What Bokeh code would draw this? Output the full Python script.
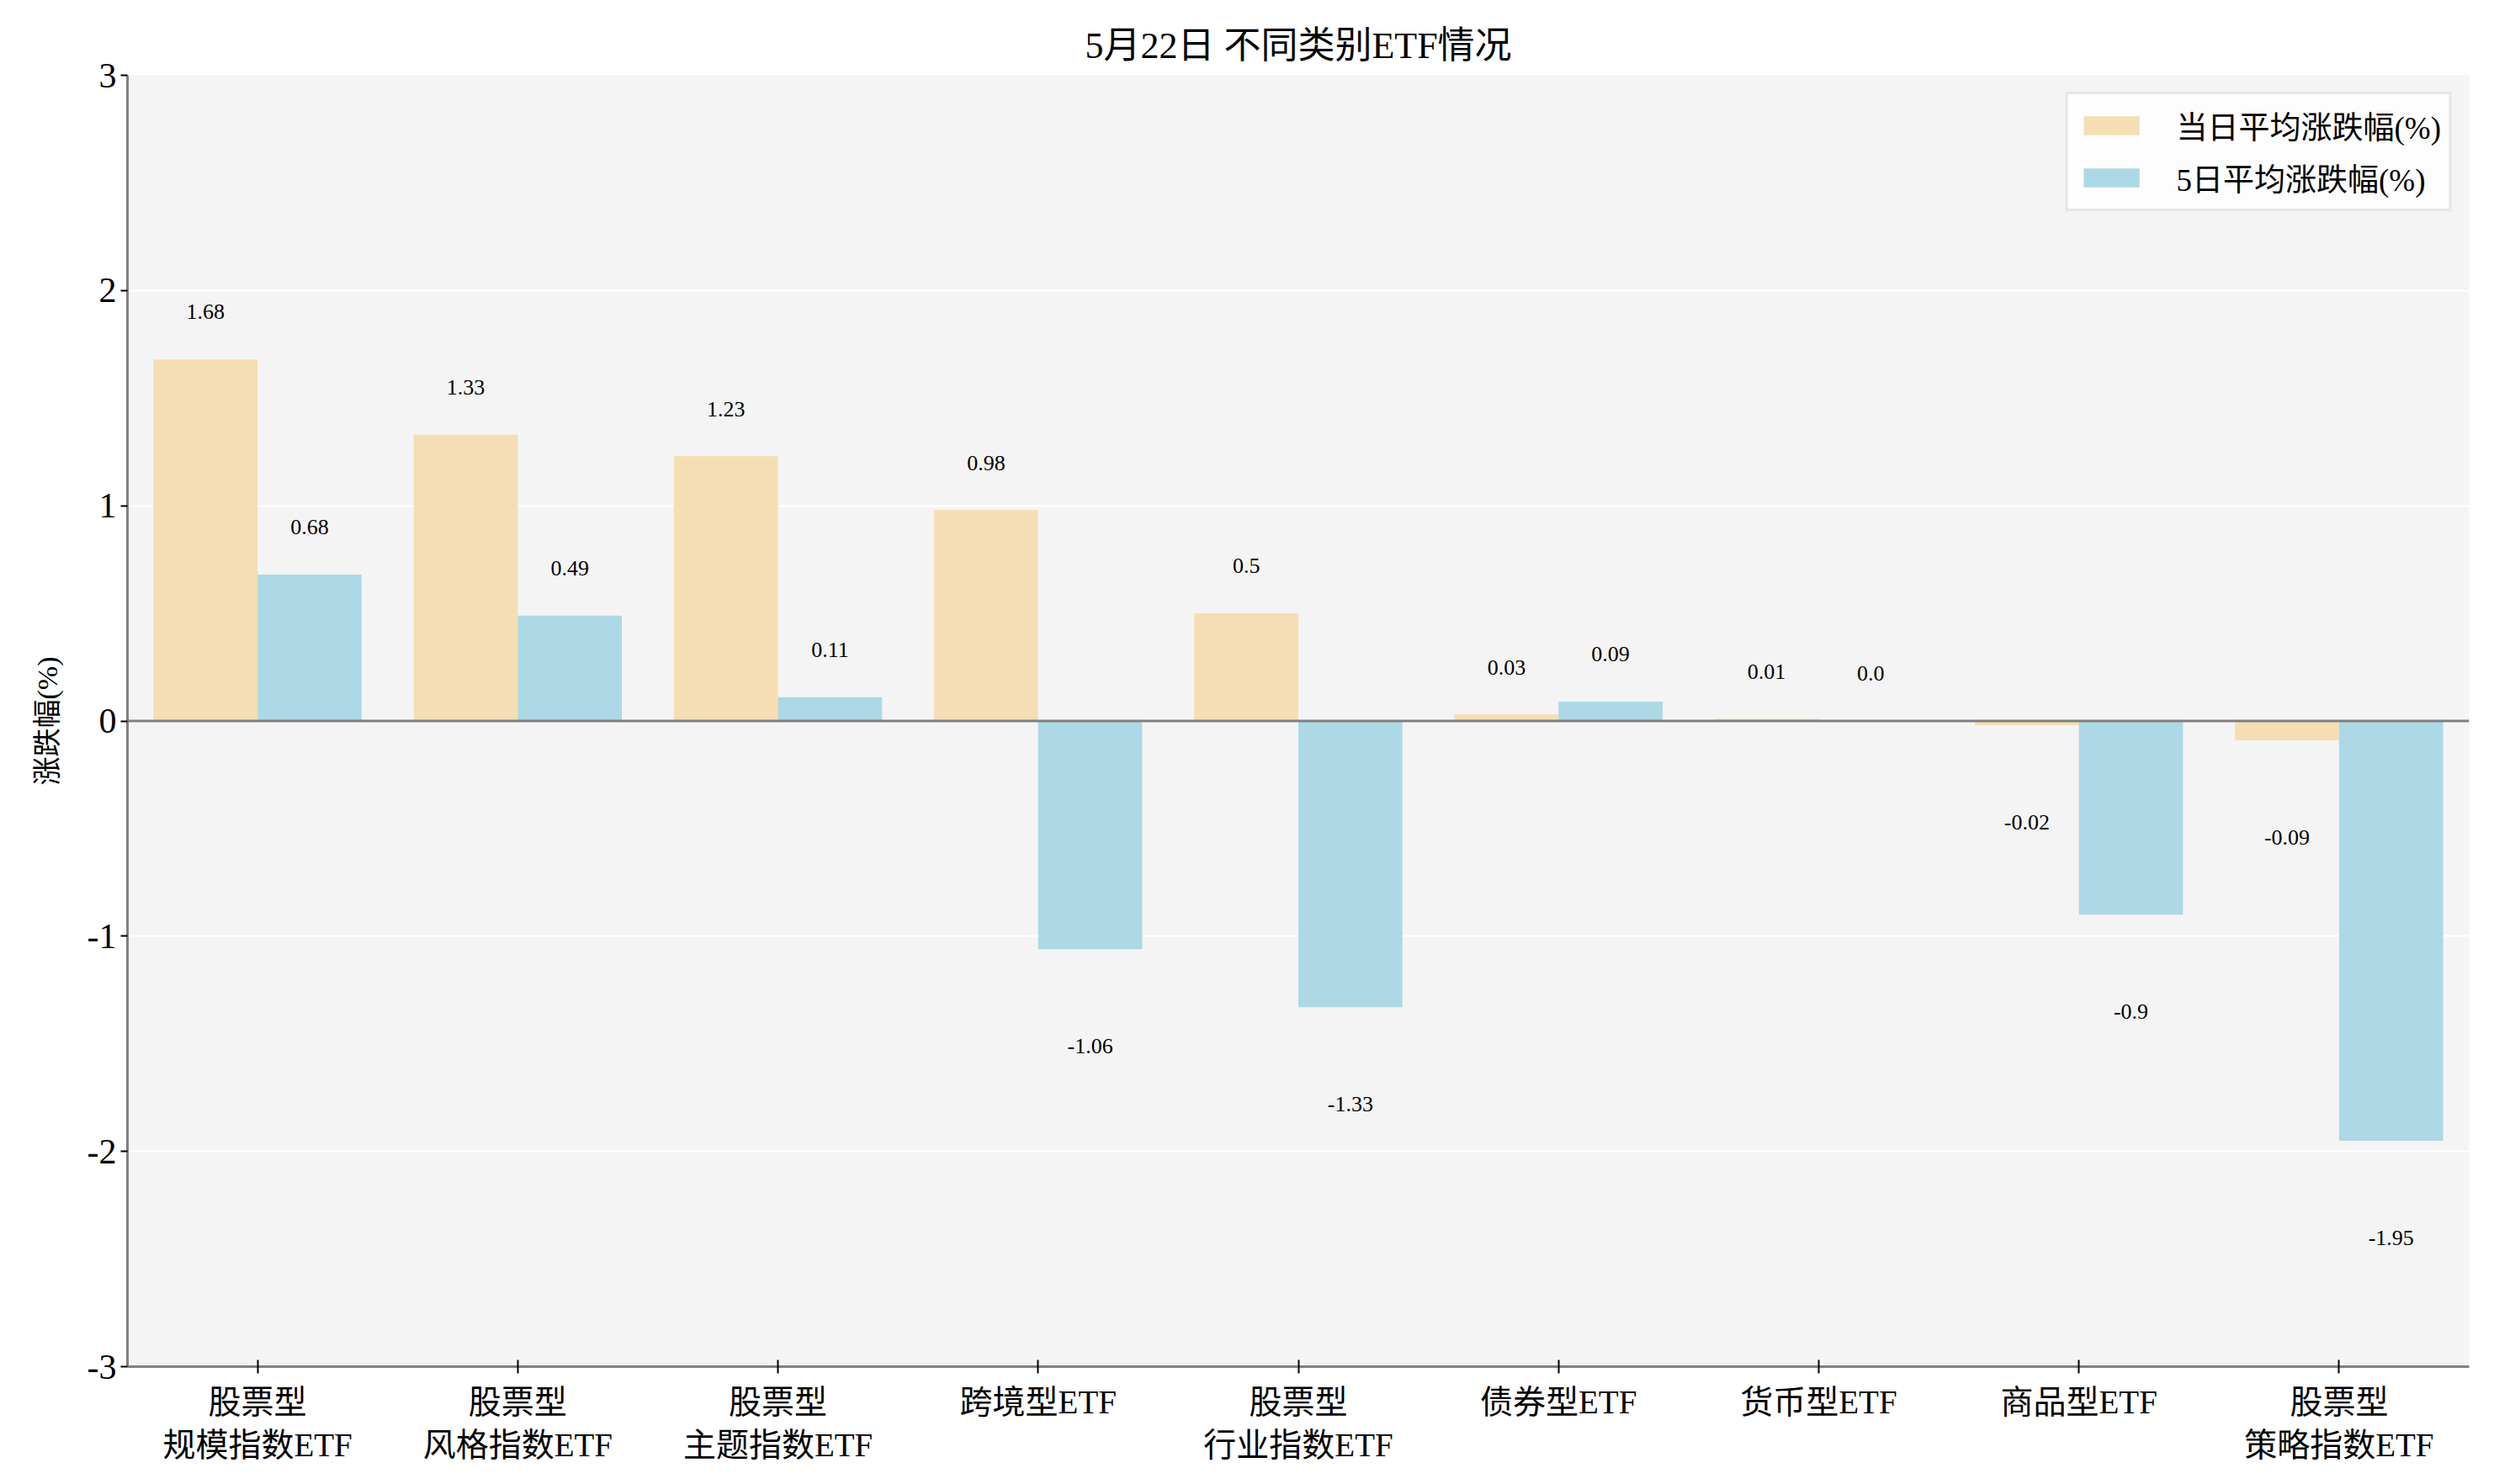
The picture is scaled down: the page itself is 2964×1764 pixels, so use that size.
from bokeh.plotting import figure
from bokeh.models import ColumnDataSource, FactorRange, FixedTicker, Span, Legend, LegendItem
from bokeh.transform import dodge
from bokeh.embed import file_html
from bokeh.resources import INLINE

# categories and values
cats = ["股票型\n规模指数ETF", "股票型\n风格指数ETF", "股票型\n主题指数ETF", "跨境型ETF",
        "股票型\n行业指数ETF", "债券型ETF", "货币型ETF", "商品型ETF", "股票型\n策略指数ETF"]
today = [1.68, 1.33, 1.23, 0.98, 0.5, 0.03, 0.01, -0.02, -0.09]
five_day = [0.68, 0.49, 0.11, -1.06, -1.33, 0.09, 0.0, -0.9, -1.95]
y_ticks = [-3, -2, -1, 0, 1, 2, 3]

FONT = "'Liberation Serif', 'Noto Sans CJK SC'"


def label_y(vals):
    return [v + 0.22 if v >= 0 else v - 0.45 for v in vals]


src = ColumnDataSource(data=dict(
    cats=cats,
    today=today,
    five=five_day,
    today_txt=[str(v) for v in today],
    five_txt=[str(v) for v in five_day],
    today_y=label_y(today),
    five_y=label_y(five_day),
))

p = figure(x_range=FactorRange(factors=cats), y_range=(-3, 3),
           width=2956, height=1756, output_backend="svg", toolbar_location=None,
           title="5月22日 不同类别ETF情况")
p.min_border_left = 151
p.min_border_right = 22
p.min_border_top = 89
p.min_border_bottom = 132

p.background_fill_color = "#f4f4f4"
p.border_fill_color = "white"
p.outline_line_color = None

p.title.align = "center"
p.title.text_font = FONT
p.title.text_font_size = "44px"
p.title.text_font_style = "normal"
p.title.text_color = "black"
p.title.standoff = 22

r1 = p.vbar(x=dodge("cats", -0.2, range=p.x_range), top="today", width=0.4,
            source=src, color="#f5deb3", line_color=None)
r2 = p.vbar(x=dodge("cats", 0.2, range=p.x_range), top="five", width=0.4,
            source=src, color="#add8e6", line_color=None)

p.text(x=dodge("cats", -0.2, range=p.x_range), y="today_y", text="today_txt", source=src,
       text_align="center", text_baseline="middle", text_font_size="26px",
       text_font="Liberation Serif", text_color="black")
p.text(x=dodge("cats", 0.2, range=p.x_range), y="five_y", text="five_txt", source=src,
       text_align="center", text_baseline="middle", text_font_size="26px",
       text_font="Liberation Serif", text_color="black")

# zero line
p.add_layout(Span(location=0, dimension="width", line_color="#808080", line_width=3))

# grid
p.xgrid.grid_line_color = None
p.ygrid.grid_line_color = "white"
p.ygrid.grid_line_width = 2
p.yaxis.ticker = FixedTicker(ticks=y_ticks)
p.yaxis.major_label_overrides = {t: str(t) for t in y_ticks}

# axes
for ax in (p.xaxis, p.yaxis):
    ax.axis_line_color = "#808080"
    ax.axis_line_width = 3
    ax.major_tick_line_color = "black"
    ax.major_tick_line_width = 2
    ax.minor_tick_line_color = None
    ax.major_label_text_font = FONT
    ax.major_label_text_color = "black"

p.yaxis.major_label_text_font_size = "42px"
p.xaxis.major_label_text_font_size = "39px"
p.yaxis.major_tick_in = 0
p.yaxis.major_tick_out = 8
p.xaxis.major_tick_in = 8
p.xaxis.major_tick_out = 8
p.xaxis.major_label_standoff = 12
p.yaxis.axis_label = "涨跌幅(%)"
p.yaxis.axis_label_text_font = FONT
p.yaxis.axis_label_text_font_size = "34px"
p.yaxis.axis_label_text_font_style = "normal"
p.yaxis.axis_label_text_color = "black"
p.yaxis.axis_label_standoff = 26

legend = Legend(items=[LegendItem(label="当日平均涨跌幅(%)", renderers=[r1]),
                       LegendItem(label="5日平均涨跌幅(%)", renderers=[r2])],
                location="top_right")
legend.label_text_font = FONT
legend.label_text_font_size = "37px"
legend.label_text_color = "black"
legend.glyph_width = 83
legend.glyph_height = 28
legend.label_standoff = 36
legend.spacing = 8
legend.padding = 10
legend.margin = 20
legend.background_fill_color = "white"
legend.background_fill_alpha = 0.8
legend.border_line_color = "#d0d0d0"
legend.border_line_width = 3
p.add_layout(legend)

open("out.html", "w").write(file_html(p, INLINE))
